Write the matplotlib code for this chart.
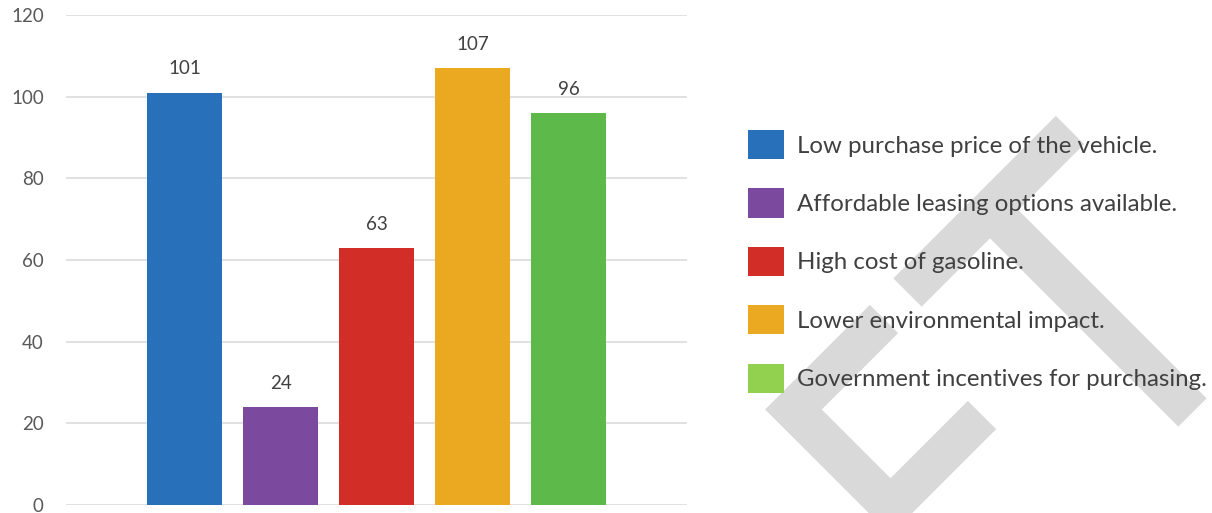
import matplotlib
matplotlib.use("Agg")
import matplotlib.pyplot as plt
from matplotlib.patches import Patch
from matplotlib.lines import Line2D
import numpy as np

# --- data ---
reasons = [
    "Low purchase price of the vehicle.",
    "Affordable leasing options available.",
    "High cost of gasoline.",
    "Lower environmental impact.",
    "Government incentives for purchasing.",
]
counts = [101, 24, 63, 107, 96]
bar_colors = ["#2870b9", "#7b4a9e", "#d22e27", "#eba821", "#5cb94a"]
legend_colors = ["#2870b9", "#7b4a9e", "#d22e27", "#eba821", "#92d050"]
y_ticks = [0, 20, 40, 60, 80, 100, 120]

W, H = 1212, 513
plt.rcParams["font.family"] = ["Lato", "DejaVu Sans"]

fig = plt.figure(figsize=(W / 100, H / 100), dpi=100)
fig.patch.set_facecolor("white")

# plot area in pixels: x 66..687, y(0)=505, y(120)=15
ax = fig.add_axes([66 / W, 1 - 505 / H, (687 - 66) / W, 490 / H])

x = np.arange(len(counts))
bars = ax.bar(x, counts, width=0.78, color=bar_colors, zorder=2)

for xi, v in zip(x, counts):
    ax.annotate(f"{v}", (xi, v), xytext=(0, 17), textcoords="offset points",
                ha="center", va="center", fontsize=13.5, color="#404040")

ax.set_ylim(0, 120)
ax.set_xlim(2 - 3.234, 2 + 3.234)
ax.set_yticks(y_ticks)
ax.set_xticks([])
ax.yaxis.grid(True, color="#d9d9d9", linewidth=1.1, zorder=0)
ax.set_axisbelow(True)
ax.tick_params(axis="y", length=0, pad=16, labelsize=13.5, labelcolor="#595959")
for s in ax.spines.values():
    s.set_visible(False)

# legend on the right
handles = [Patch(facecolor=c, edgecolor="none") for c in legend_colors]
ax.legend(handles, reasons, loc="upper left",
          bbox_to_anchor=(748 / W, 1 - 130 / H), bbox_transform=fig.transFigure,
          frameon=False, fontsize=17.3, labelcolor="#404040",
          handlelength=1.5, handleheight=1.5, handletextpad=0.52,
          labelspacing=1.21, borderpad=0, borderaxespad=0)

# grey watermark strokes behind everything (pixel coords -> figure fraction)
wm_strokes = [
    [(907.5, 292.5), (1070, 130)],
    [(990, 210), (1192.5, 412.5)],
    [(884, 319), (779.5, 423.5)],
    [(779.5, 395.5), (992, 608)],
    [(982, 415), (890.5, 506.5)],
]
for (x0, y0), (x1, y1) in wm_strokes:
    fig.add_artist(Line2D([x0 / W, x1 / W], [1 - y0 / H, 1 - y1 / H],
                          transform=fig.transFigure, color="#d9d9d9",
                          linewidth=40 * 0.72, solid_capstyle="butt", zorder=-1))

fig.savefig("out.png", dpi=100)
